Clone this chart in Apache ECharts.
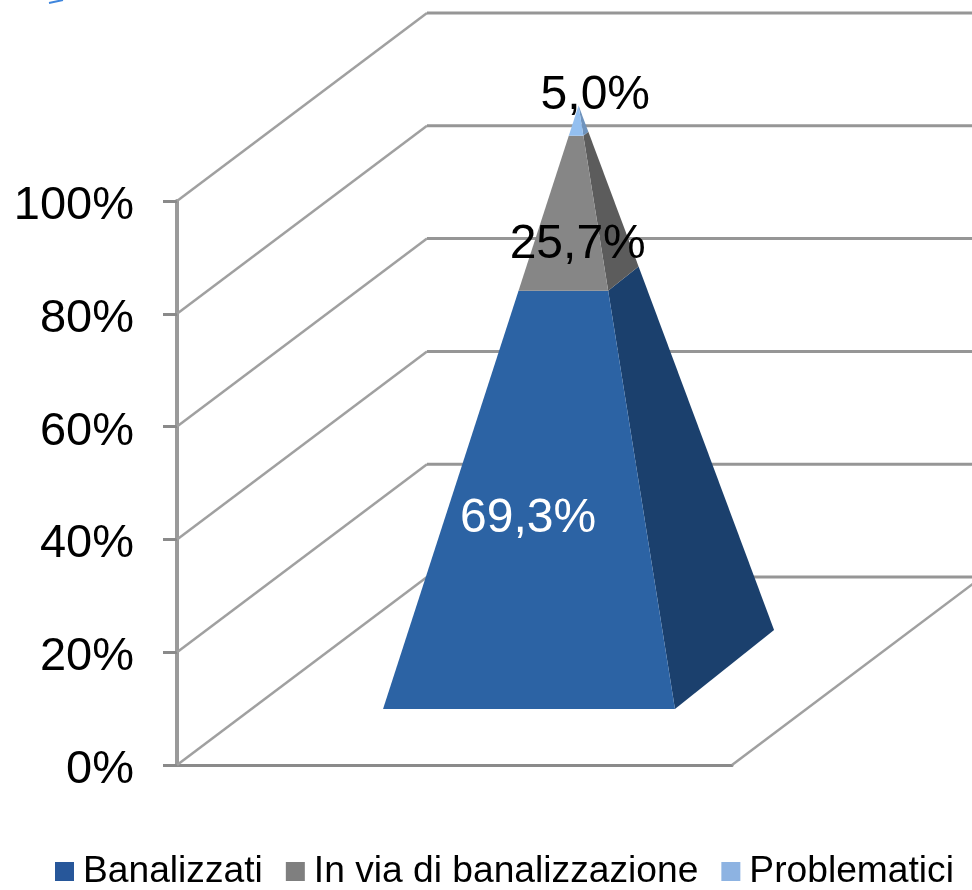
<!DOCTYPE html>
<html>
<head>
<meta charset="utf-8">
<style>
  html, body { margin: 0; padding: 0; background: #fff; }
  #main { width: 972px; height: 890px; }
</style>
<script src="https://cdn.jsdelivr.net/npm/echarts@6/dist/echarts.min.js"></script>
</head>
<body>
<div id="main"></div>
<script>
// dati
const categories = ['Totale'];
const seriesNames = ['Banalizzati', 'In via di banalizzazione', 'Problematici'];
const seriesValues = [69.3, 25.7, 5.0];
const tickValues = [0, 20, 40, 60, 80, 100];

const FONT = '"Liberation Sans", Arial, sans-serif';
const legendColors = ['#27579a', '#7f7f7f', '#8db3e2'];
const frontColors = ['#2c63a4', '#868686', '#93bff0'];
const sideColors = ['#1b406d', '#5c5c5c', '#6f93bd'];
const labelColors = ['#ffffff', '#000000', '#000000'];
const labelOffsets = [[-18, 19], [8, 32], [18, -25]];

// profondita' della scena 3D in pixel
const WALL_DX = 250, WALL_DY = 188;
// piramide: frazioni della profondita' e della larghezza della banda
const FRONT_DEPTH = 0.298, MID_DEPTH = 0.508, HALF_DEPTH = 0.21;
const HALF_WIDTH = 0.263, PYR_DX = 236, PYR_SHIFT = 74.5;

function pyramidPoint(api, side, depthSign, val) {
    const p = api.coord([0, val]);
    const k = 1 - val / 100;
    const band = api.size([1, 0])[0];
    const depth = MID_DEPTH + depthSign * HALF_DEPTH * k;
    return [
        p[0] + PYR_SHIFT + side * HALF_WIDTH * band * k + (depth - FRONT_DEPTH) * PYR_DX,
        p[1] - depth * WALL_DY
    ];
}

function renderSegment(idx) {
    return function (params, api) {
        const a = api.value(1), b = api.value(2);
        const front = [
            pyramidPoint(api, -1, -1, a), pyramidPoint(api, 1, -1, a),
            pyramidPoint(api, 1, -1, b), pyramidPoint(api, -1, -1, b)
        ];
        const side = [
            pyramidPoint(api, 1, -1, a), pyramidPoint(api, 1, 1, a),
            pyramidPoint(api, 1, 1, b), pyramidPoint(api, 1, -1, b)
        ];
        const mid = (a + b) / 2;
        const left = pyramidPoint(api, -1, -1, mid), right = pyramidPoint(api, 1, -1, mid);
        return {
            type: 'group',
            children: [
                { type: 'polygon', shape: { points: side }, style: { fill: sideColors[idx] } },
                { type: 'polygon', shape: { points: front }, style: { fill: frontColors[idx] } },
                {
                    type: 'text',
                    z2: 10,
                    style: {
                        text: (b - a).toFixed(1).replace('.', ',') + '%',
                        x: (left[0] + right[0]) / 2 + labelOffsets[idx][0],
                        y: left[1] + labelOffsets[idx][1],
                        align: 'center',
                        verticalAlign: 'middle',
                        fontSize: 48,
                        fontFamily: FONT,
                        fill: labelColors[idx]
                    }
                }
            ]
        };
    };
}

// pareti: diagonali del muro laterale e righe del muro di fondo
function renderWall(params, api) {
    const y = api.coord([0, api.value(0)])[1];
    const c = params.coordSys;
    const children = [
        {
            type: 'line',
            shape: { x1: c.x, y1: y, x2: c.x + WALL_DX, y2: y - WALL_DY },
            style: { stroke: '#a0a0a0', lineWidth: 2.5 }
        },
        {
            type: 'line',
            shape: { x1: c.x + WALL_DX, y1: y - WALL_DY, x2: c.x + c.width + WALL_DX, y2: y - WALL_DY },
            style: { stroke: '#969696', lineWidth: 3 }
        }
    ];
    if (params.dataIndex === 0) {
        children.push({
            type: 'line',
            shape: { x1: c.x + c.width, y1: y, x2: c.x + c.width + WALL_DX, y2: y - WALL_DY },
            style: { stroke: '#a0a0a0', lineWidth: 2.5 }
        });
    }
    return { type: 'group', children: children };
}

let start = 0;
const pyramidSeries = seriesNames.map((name, i) => {
    const s = {
        name: name,
        type: 'custom',
        coordinateSystem: 'cartesian2d',
        itemStyle: { color: legendColors[i] },
        encode: { x: 0, y: [1, 2] },
        renderItem: renderSegment(i),
        z: 5 + i,
        silent: true,
        data: [[0, start, start + seriesValues[i]]]
    };
    start += seriesValues[i];
    return s;
});

const myChart = echarts.init(document.getElementById('main'), null, { renderer: 'canvas' });
myChart.setOption({
    animation: false,
    backgroundColor: '#ffffff',
    textStyle: { fontFamily: FONT },
    grid: { left: 177, top: 201, width: 555, height: 564, containLabel: false },
    legend: {
        data: seriesNames,
        left: 55,
        top: 853,
        padding: 0,
        icon: 'rect',
        itemWidth: 19,
        itemHeight: 19,
        itemGap: 23,
        selectedMode: false,
        textStyle: { fontSize: 37.2, fontFamily: FONT, color: '#000', padding: [5, 0, 0, 4] }
    },
    xAxis: {
        type: 'category',
        data: categories,
        axisTick: { show: false },
        axisLabel: { show: false },
        axisLine: { lineStyle: { color: '#8a8a8a', width: 3 } }
    },
    yAxis: {
        type: 'value',
        min: 0,
        max: 100,
        interval: 20,
        splitLine: { show: false },
        axisLine: { show: true, lineStyle: { color: '#9a9a9a', width: 4 } },
        axisTick: { show: true, length: 14, lineStyle: { color: '#8a8a8a', width: 3 } },
        axisLabel: {
            margin: 43,
            fontSize: 47,
            fontFamily: FONT,
            color: '#000',
            verticalAlign: 'top',
            lineHeight: 10,
            formatter: '{value}%'
        }
    },
    graphic: [{
        // frammento blu tagliato in alto a sinistra
        type: 'polyline',
        shape: { points: [[49, 3], [63, 0]] },
        style: { stroke: '#3f86dd', lineWidth: 2, fill: null }
    }],
    series: [{
        name: 'walls',
        type: 'custom',
        coordinateSystem: 'cartesian2d',
        encode: { y: 0 },
        renderItem: renderWall,
        z: 1,
        silent: true,
        data: tickValues.map(v => [v])
    }].concat(pyramidSeries)
});
window.onresize = myChart.resize;
</script>
</body>
</html>
